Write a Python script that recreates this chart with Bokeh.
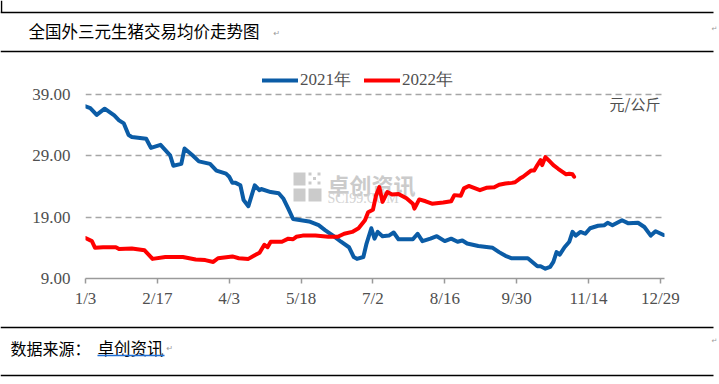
from bokeh.plotting import figure
from bokeh.models import Range1d, FixedTicker, Legend, LegendItem, PrintfTickFormatter
from bokeh.layouts import column
from bokeh.embed import file_html
from bokeh.resources import INLINE
from bokeh.core.properties import value

# ---------------- data ----------------
tick_days = [0, 45, 90, 135, 180, 225, 270, 315, 360]
tick_labels = ["1/3", "2/17", "4/3", "5/18", "7/2", "8/16", "9/30", "11/14", "12/29"]
y_ticks = [9, 19, 29, 39]

days_2021 = [0, 3, 7, 12, 18, 21, 24, 27, 29, 38, 41, 47, 53, 55, 60, 62, 67, 71, 78, 82,
             88, 90, 92, 94, 97, 99, 102, 106, 109, 110, 116, 121, 124, 127, 130, 140, 146,
             150, 155, 160, 165, 168, 170, 174, 176, 179, 181, 183, 186, 190, 193, 196, 205,
             208, 211, 216, 220, 225, 229, 233, 236, 239, 246, 255, 259, 263, 267, 277, 283,
             285, 288, 291, 293, 295, 297, 300, 303, 305, 307, 310, 313, 316, 321, 325, 327,
             330, 336, 340, 346, 350, 354, 357, 362]
price_2021 = [37.1, 36.8, 35.7, 36.7, 35.6, 34.8, 34.3, 32.4, 32.1, 31.8, 30.3, 30.8, 29.1,
              27.4, 27.7, 30.2, 29.1, 28.1, 27.7, 26.6, 26.1, 25.6, 24.6, 24.6, 24.2, 21.8,
              20.8, 24.2, 23.4, 23.6, 23.1, 22.9, 22.0, 20.4, 18.7, 18.3, 17.7, 16.9, 16.0,
              15.0, 14.1, 12.5, 12.2, 12.5, 14.7, 17.2, 15.5, 16.6, 15.9, 16.0, 16.5, 15.4,
              15.4, 16.3, 15.1, 15.5, 15.9, 15.1, 15.5, 15.0, 15.2, 14.7, 14.3, 14.0, 13.3,
              12.7, 12.3, 12.3, 11.0, 11.0, 10.6, 10.9, 11.7, 13.3, 12.9, 14.1, 15.0, 16.6,
              16.0, 16.6, 16.3, 17.2, 17.6, 17.7, 18.1, 17.7, 18.5, 18.0, 18.1, 17.4, 16.0,
              16.7, 16.1]

days_2022 = [0, 4, 6, 11, 19, 21, 29, 37, 42, 50, 61, 69, 75, 80, 83, 92, 96, 102, 106, 109,
             112, 114, 116, 123, 127, 130, 132, 136, 144, 152, 158, 162, 167, 171, 175, 177,
             180, 182, 184, 186, 189, 192, 196, 201, 205, 206, 209, 213, 217, 224, 229, 231,
             235, 237, 240, 247, 251, 256, 259, 263, 267, 269, 272, 274, 279, 281, 283, 285,
             286, 288, 290, 293, 296, 301, 303, 305, 306]
price_2022 = [15.6, 15.1, 14.0, 14.1, 14.1, 13.8, 13.9, 13.6, 12.2, 12.5, 12.5, 12.1, 12.0,
              11.7, 12.3, 12.6, 12.3, 12.2, 12.8, 13.2, 14.5, 14.1, 15.0, 15.0, 15.5, 15.4,
              15.8, 16.0, 16.0, 15.8, 15.8, 16.3, 16.6, 17.2, 18.5, 19.8, 20.2, 22.6, 23.9,
              21.5, 23.1, 22.7, 22.8, 22.1, 21.2, 20.4, 21.9, 21.6, 21.2, 21.4, 21.6, 22.6,
              22.5, 23.7, 24.1, 23.4, 23.8, 23.9, 24.3, 24.5, 24.6, 24.7, 25.3, 25.6, 26.6,
              26.6, 27.5, 28.3, 27.5, 28.8, 28.3, 27.5, 26.9, 26.0, 26.1, 26.0, 25.6]

title_text = "全国外三元生猪交易均价走势图"
source_label = "数据来源："
source_name = "卓创资讯"
unit_text = "元/公斤"

# ---------------- layout constants ----------------
W = 719
CJK = "Noto Sans CJK SC"
NUM = "Liberation Serif"
GRAY_TXT = "#505050"

MAIN_TOP = 60
MAIN_H = 258
BL, BR, BT, BB = 85, 55, 10, 40
FRAME_W = W - BL - BR
FRAME_H = MAIN_H - BT - BB
FRAME_BOTTOM = MAIN_TOP + MAIN_H - BB
X_END = 362.6
Y_START = 9
Y_END = Y_START + FRAME_H / 6.13

def px_x(px):
    return (px - BL) * X_END / FRAME_W

def px_y(py):
    return Y_START + (FRAME_BOTTOM - py) * (Y_END - Y_START) / FRAME_H


def blank(height):
    f = figure(width=W, height=height, x_range=Range1d(0, W), y_range=Range1d(height, 0),
               output_backend="svg", toolbar_location=None, min_border=0,
               x_axis_location=None, y_axis_location=None,
               outline_line_color=None)
    f.grid.visible = False
    f.background_fill_color = "white"
    f.border_fill_color = "white"
    return f

# ---------------- top band ----------------
top = blank(MAIN_TOP)
top.segment(x0=[0, 0], y0=[12, 51], x1=[713, 713], y1=[12, 51], line_color="black",
            line_width=1.5)
top.segment(x0=[1], y0=[0], x1=[1], y1=[12], line_color="black", line_width=1.5)
top.text(x=[28], y=[30], text=[title_text], text_font=value(CJK), text_font_size="16.5px",
         text_color="black", text_baseline="middle", text_align="left")
top.text(x=[273], y=[33], text=["↵"], text_font=value("DejaVu Sans"), text_font_size="8px",
         text_color="#9a9a9a", text_baseline="middle")
top.text(x=[711], y=[28], text=["↵"], text_font=value("DejaVu Sans"), text_font_size="7px",
         text_color="#9a9a9a", text_baseline="middle")

# ---------------- main chart ----------------
p = figure(width=W, height=MAIN_H, x_range=Range1d(0, X_END), y_range=Range1d(Y_START, Y_END),
           output_backend="svg", toolbar_location=None,
           min_border_left=BL, min_border_right=BR, min_border_top=BT, min_border_bottom=BB,
           outline_line_color=None)
p.background_fill_color = "white"
p.border_fill_color = "white"

p.xgrid.visible = False
p.ygrid.ticker = FixedTicker(ticks=y_ticks[1:])
p.ygrid.grid_line_color = "#A6A6A6"
p.ygrid.grid_line_dash = "6 4"
p.ygrid.grid_line_width = 1.5

xa = p.xaxis[0]
xa.ticker = FixedTicker(ticks=tick_days)
xa.major_label_overrides = {d: l for d, l in zip(tick_days, tick_labels)}
xa.axis_line_color = "#9A9A9A"
xa.axis_line_width = 1.5
xa.major_tick_line_color = "#9A9A9A"
xa.major_tick_line_width = 1.5
xa.major_tick_out = 5
xa.major_tick_in = 0
xa.minor_tick_line_color = None
xa.major_label_standoff = 5
xa.major_label_text_font = NUM
xa.major_label_text_font_size = "17px"
xa.major_label_text_color = GRAY_TXT

ya = p.yaxis[0]
ya.ticker = FixedTicker(ticks=y_ticks)
ya.formatter = PrintfTickFormatter(format="%.2f")
ya.axis_line_color = None
ya.major_tick_line_color = None
ya.minor_tick_line_color = None
ya.major_tick_out = 0
ya.major_tick_in = 0
ya.major_label_standoff = 15
ya.major_label_text_font = NUM
ya.major_label_text_font_size = "17px"
ya.major_label_text_color = GRAY_TXT

# watermark (behind the lines)
wm = "#CBCBCB"
p.quad(left=[px_x(293), px_x(293), px_x(308)], right=[px_x(305), px_x(305), px_x(321)],
       top=[px_y(172), px_y(188), px_y(188)], bottom=[px_y(185), px_y(201), px_y(201)],
       fill_color=wm, line_color=None)
dot_x, dot_y = [], []
for i in range(3):
    for j in range(3):
        if (i + j) % 2 == 0:
            dot_x.append(px_x(309.5 + i * 4.5))
            dot_y.append(px_y(173.5 + j * 4.5))
p.rect(x=dot_x, y=dot_y, width=3, height=3, width_units="screen", height_units="screen",
       fill_color=wm, line_color=None)
p.text(x=[px_x(327)], y=[px_y(183)], text=[source_name], text_font=value(CJK),
       text_font_size="22px", text_color=wm, text_baseline="middle", text_font_style="bold")
p.text(x=[px_x(327)], y=[px_y(198)], text=["SCI99.COM"], text_font=value(NUM),
       text_font_size="14px", text_color="#D2D2D2", text_baseline="middle")

r21 = p.line(days_2021, price_2021, line_color="#0B5CA6", line_width=4,
             line_join="round", line_cap="round")
r22 = p.line(days_2022, price_2022, line_color="#FF0000", line_width=4,
             line_join="round", line_cap="round")

legend = Legend(items=[LegendItem(label="2021年", renderers=[r21]),
                       LegendItem(label="2022年", renderers=[r22])],
                orientation="horizontal", location=(262 - BL, FRAME_BOTTOM - 81 - 10),
                glyph_width=36, glyph_height=20, label_standoff=2, spacing=13,
                padding=0, margin=0, border_line_color=None, background_fill_alpha=0,
                label_text_font=NUM, label_text_font_size="17px",
                label_text_color=GRAY_TXT)
p.add_layout(legend)

p.text(x=[px_x(660)], y=[px_y(103)], text=[unit_text], text_font=value(CJK),
       text_font_size="15px", text_color=GRAY_TXT, text_align="right", text_baseline="middle")

# ---------------- bottom band ----------------
BOT_H = 384 - MAIN_TOP - MAIN_H
bot = blank(BOT_H)
bot.segment(x0=[0, 0], y0=[9, 57], x1=[713, 713], y1=[9, 57], line_color="black",
            line_width=1.5)
bot.text(x=[10], y=[29], text=[source_label], text_font=value(CJK), text_font_size="16px",
         text_color="black", text_baseline="middle")
bot.text(x=[97], y=[29], text=[source_name], text_font=value(CJK), text_font_size="16.5px",
         text_color="black", text_baseline="middle")
bot.segment(x0=[97], y0=[37], x1=[164], y1=[37], line_color="#1F6FD6", line_width=1.5)
bot.text(x=[166], y=[30], text=["↵"], text_font=value("DejaVu Sans"), text_font_size="8px",
         text_color="#9a9a9a", text_baseline="middle")
bot.text(x=[711], y=[22], text=["↵"], text_font=value("DejaVu Sans"), text_font_size="7px",
         text_color="#9a9a9a", text_baseline="middle")

layout = column(column(top), p, column(bot), spacing=0)
open("out.html", "w").write(file_html(layout, INLINE))
